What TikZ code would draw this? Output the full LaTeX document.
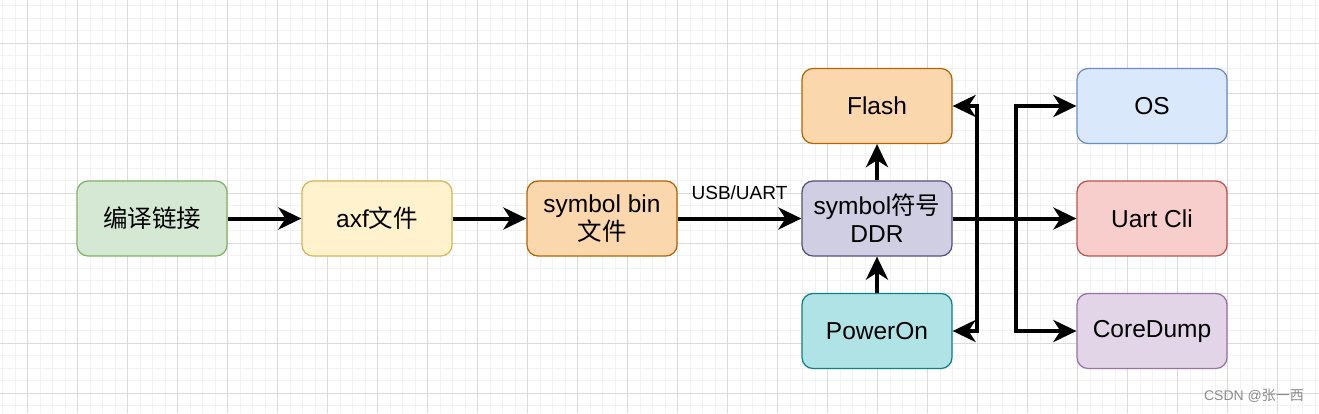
\documentclass[tikz,border=0pt]{standalone}
\usepackage{fontspec}
\setmainfont{Liberation Sans}
\newfontfamily\cjk{Noto Sans CJK SC}
\usetikzlibrary{arrows.meta}
\definecolor{gmin}{HTML}{F2F2F2}
\definecolor{gmaj}{HTML}{DADADA}
\definecolor{fgreen}{HTML}{D5E8D4}\definecolor{sgreen}{HTML}{82B366}
\definecolor{fyellow}{HTML}{FFF2CC}\definecolor{syellow}{HTML}{D6B656}
\definecolor{forange}{HTML}{FAD7AC}\definecolor{sorange}{HTML}{B46504}
\definecolor{fpurple}{HTML}{D0CEE2}\definecolor{spurple}{HTML}{56517E}
\definecolor{fteal}{HTML}{B0E3E6}\definecolor{steal}{HTML}{0E8088}
\definecolor{fblue}{HTML}{DAE8FC}\definecolor{sblue}{HTML}{6C8EBF}
\definecolor{fred}{HTML}{F8CECC}\definecolor{sred}{HTML}{B85450}
\definecolor{fviolet}{HTML}{E1D5E7}\definecolor{sviolet}{HTML}{9673A6}
\begin{document}
\begin{tikzpicture}[x=1pt,y=-1pt,
  box/.style={draw, rounded corners=11pt, line width=1.25pt, minimum width=150pt, minimum height=75pt,
    inner sep=0pt, align=center, font=\fontsize{24.5}{28}\selectfont},
  conn/.style={line width=4pt, -{Stealth[length=23pt,width=22pt,inset=7pt]}},
  minorline/.style={gmin, line width=1pt},
  majorline/.style={gmaj, line width=1pt}]
\useasboundingbox (0,0) rectangle (1319,413);
\fill[white] (0,0) rectangle (1319,413);
% grid
\foreach \i in {0,...,105} {\draw[minorline] (2.5+12.5*\i,0) -- ++(0,413);}
\foreach \i in {0,...,33} {\draw[minorline] (0,5.8+12.5*\i) -- ++(1319,0);}
\foreach \i in {0,...,26} {\draw[majorline] (27.5+50*\i,0) -- ++(0,413);}
\foreach \i in {0,...,7} {\draw[majorline] (0,43.3+50*\i) -- ++(1319,0);}
% nodes
\node[box, fill=fgreen, draw=sgreen] (n1) at (152,218.5) {\cjk 编译链接};
\node[box, fill=fyellow, draw=syellow] (n2) at (377,218.5) {axf\cjk 文件};
\node[box, fill=forange, draw=sorange] (n3) at (602,218.5) {symbol bin\\\cjk 文件};
\node[box, fill=fpurple, draw=spurple] (ddr) at (877,218.5) {symbol{\cjk 符号}\\DDR};
\node[box, fill=forange, draw=sorange] (flash) at (877,106) {Flash};
\node[box, fill=fteal, draw=steal] (power) at (877,331) {PowerOn};
\node[box, fill=fblue, draw=sblue] (os) at (1152,106) {OS};
\node[box, fill=fred, draw=sred] (uart) at (1152,218.5) {Uart Cli};
\node[box, fill=fviolet, draw=sviolet] (core) at (1152,331) {CoreDump};
% connectors
\draw[conn] (n1.east) -- (n2.west);
\draw[conn] (n2.east) -- (n3.west);
\draw[conn] (n3.east) -- node[pos=0.5, yshift=25.5pt, font=\fontsize{19}{22}\selectfont, inner sep=0pt] (lbl) {USB/UART} (ddr.west);
\draw[conn] (ddr.north) -- (flash.south);
\draw[conn] (power.north) -- (ddr.south);
\draw[conn] (ddr.east) -- ++(24,0) |- (flash.east);
\draw[conn] (ddr.east) -- ++(24,0) |- (power.east);
\draw[conn] (ddr.east) -- ++(63,0) |- (os.west);
\draw[conn] (ddr.east) -- ++(63,0) |- (core.west);
\draw[conn] (ddr.east) -- (uart.west);
% watermark
\node[text=black!45, font=\fontsize{14}{16}\selectfont, inner sep=0pt] (wm) at (1254,396) {CSDN @\cjk 张一西};
\end{tikzpicture}
\end{document}
